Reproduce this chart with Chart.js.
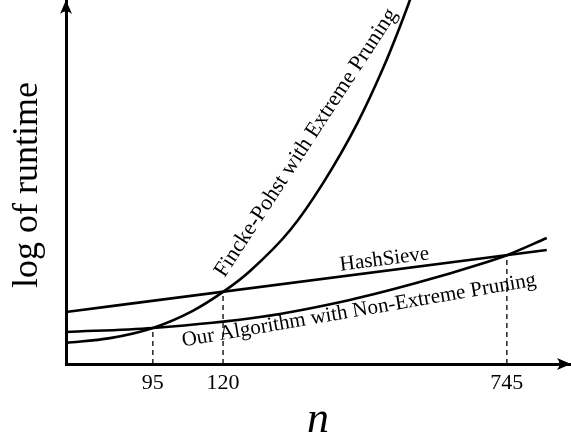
<!DOCTYPE html>
<html>
<head>
<meta charset="utf-8">
<script src="https://cdn.jsdelivr.net/npm/chart.js@4/dist/chart.umd.min.js"></script>
<style>
  html, body { margin: 0; padding: 0; background: #fff; }
  #c { display: block; }
</style>
</head>
<body>
<canvas id="c" width="571" height="440"></canvas>
<script>
// ---- Data (schematic units: x 0..100, y 0..100) ----
const finckeX = [0, 8.7, 17.2, 25.1, 31.1, 36.4, 44.4, 50.9, 57.6, 62.8, 66.1, 68.1, 70.1];
const finckeY = [5.8, 7.1, 9.9, 14.6, 19.8, 25.5, 36.8, 49.7, 65.9, 81.3, 92.6, 100, 108.2];

const hashX = [0, 95.2];
const hashY = [14.3, 31.3];

const ourX = [0, 17.2, 38.4, 56.2, 69.5, 82.6, 87.3, 95.2];
const ourY = [8.8, 9.9, 12.9, 17.6, 22.3, 27.7, 29.9, 34.6];

// crossing points (x position, y level) and their tick labels
const crossX = [17.2, 31.1, 87.3];
const crossY = [9.9, 19.8, 29.9];
const tickLabels = ['95', '120', '745'];

const seriesNames = ['Fincke-Pohst with Extreme Pruning', 'HashSieve', 'Our Algorithm with Non-Extreme Pruning'];
const axisTitleY = 'log of runtime';
const axisTitleX = 'n';

// ---- helpers ----
const pts = (xs, ys) => xs.map((x, i) => ({x, y: ys[i]}));
const SERIF = '"Liberation Serif", "DejaVu Serif", serif';

const curveStyle = {
  borderColor: '#000', borderWidth: 2.6, pointRadius: 0, fill: false,
  cubicInterpolationMode: 'monotone'
};

const datasets = [
  Object.assign({label: seriesNames[0], data: pts(finckeX, finckeY)}, curveStyle),
  Object.assign({label: seriesNames[1], data: pts(hashX, hashY)}, curveStyle),
  Object.assign({label: seriesNames[2], data: pts(ourX, ourY)}, curveStyle)
];
crossX.forEach((cx, i) => {
  datasets.push({
    label: 'cross' + i,
    data: [{x: cx, y: 0}, {x: cx, y: crossY[i]}],
    borderColor: '#000', borderWidth: 1.3, borderDash: [5, 4],
    pointRadius: 0, fill: false
  });
});

// label placement (data units of the baseline centre) and rotation
const curveLabels = [
  {text: seriesNames[0], x: 48.5, y: 59.9, angle: -56.8, size: 22},
  {text: seriesNames[1], x: 63.2, y: 27.2, angle: -7.3, size: 21},
  {text: seriesNames[2], x: 58.2, y: 13.2, angle: -9.8, size: 21}
];

const decorPlugin = {
  id: 'decor',
  afterDatasetsDraw(chart) {
    const {ctx, chartArea: a, scales: {x, y}} = chart;
    ctx.save();
    ctx.fillStyle = '#000';
    // curve labels
    curveLabels.forEach(l => {
      ctx.save();
      ctx.translate(x.getPixelForValue(l.x), y.getPixelForValue(l.y));
      ctx.rotate(l.angle * Math.PI / 180);
      ctx.font = l.size + 'px ' + SERIF;
      ctx.textAlign = 'center';
      ctx.textBaseline = 'alphabetic';
      ctx.fillText(l.text, 0, 0);
      ctx.restore();
    });
    // arrow heads
    const arrow = (tx, ty, dx, dy) => {
      const L = 14, W = 6;
      const bx = tx - dx * L, by = ty - dy * L;
      const nx = -dy, ny = dx;
      ctx.beginPath();
      ctx.moveTo(tx, ty);
      ctx.lineTo(bx + nx * W, by + ny * W);
      ctx.quadraticCurveTo(tx - dx * L * 0.65, ty - dy * L * 0.65, bx - nx * W, by - ny * W);
      ctx.closePath();
      ctx.fill();
    };
    arrow(a.right, a.bottom, 1, 0);
    arrow(a.left, a.top, 0, -1);
    // y axis title
    ctx.save();
    ctx.translate(37, 185);
    ctx.rotate(-Math.PI / 2);
    ctx.font = '36px ' + SERIF;
    ctx.textAlign = 'center';
    ctx.textBaseline = 'alphabetic';
    ctx.fillText(axisTitleY, 0, 0);
    ctx.restore();
    // x axis title
    ctx.font = 'italic 44px ' + SERIF;
    ctx.textAlign = 'center';
    ctx.textBaseline = 'alphabetic';
    ctx.fillText(axisTitleX, 318, 432);
    ctx.restore();
  }
};

new Chart(document.getElementById('c'), {
  type: 'line',
  data: {datasets},
  options: {
    responsive: false,
    animation: false,
    devicePixelRatio: 1,
    layout: {padding: {top: 0, right: 0, left: 0, bottom: 0}},
    plugins: {legend: {display: false}, tooltip: {enabled: false}},
    scales: {
      x: {
        type: 'linear', min: 0, max: 100,
        grid: {display: false, drawTicks: false},
        border: {display: true, color: '#000', width: 3},
        afterFit: s => { s.height = 76; },
        afterBuildTicks: s => { s.ticks = crossX.map(v => ({value: v})); },
        ticks: {
          autoSkip: false, maxRotation: 0, padding: 6, color: '#000',
          font: {family: SERIF, size: 22},
          callback: (v, i) => tickLabels[i]
        }
      },
      y: {
        type: 'linear', min: 0, max: 100,
        grid: {display: false, drawTicks: false},
        border: {display: true, color: '#000', width: 3},
        ticks: {display: false},
        afterFit: s => { s.width = 66; }
      }
    }
  },
  plugins: [decorPlugin]
});
</script>
</body>
</html>
